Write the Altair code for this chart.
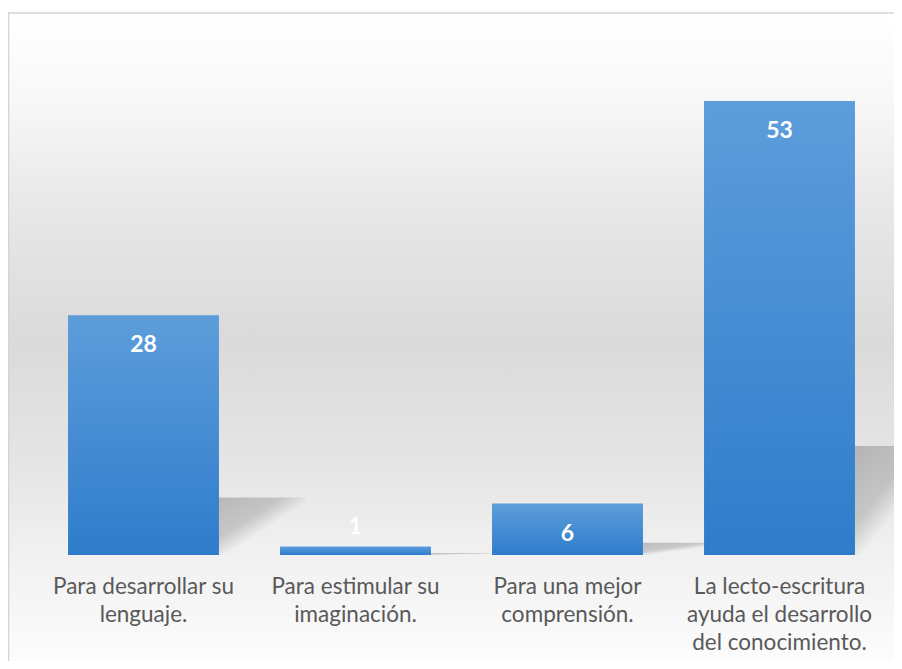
import altair as alt
import pandas as pd

categories = [
    "Para desarrollar su\nlenguaje.",
    "Para estimular su\nimaginación.",
    "Para una mejor\ncomprensión.",
    "La lecto-escritura\nayuda el desarrollo\ndel conocimiento.",
]
values = [28, 1, 6, 53]

df = pd.DataFrame({"cat": categories, "v": values})
frame_df = pd.DataFrame({"a": [0]})

W, H = 848, 514

bg = alt.Chart(frame_df).mark_rect(
    color=alt.Gradient(
        gradient="linear", x1=0, y1=0, x2=0, y2=1,
        stops=[
            alt.GradientStop(offset=0.0, color="#ffffff"),
            alt.GradientStop(offset=0.13, color="#f8f8f8"),
            alt.GradientStop(offset=0.28, color="#e9e9e9"),
            alt.GradientStop(offset=0.50, color="#dadada"),
            alt.GradientStop(offset=0.70, color="#e6e6e6"),
            alt.GradientStop(offset=0.83, color="#f1f1f1"),
            alt.GradientStop(offset=1.0, color="#fdfdfd"),
        ],
    ),
).encode(
    x=alt.value(-29.5), x2=alt.value(W + 60),
    y=alt.value(-28), y2=alt.value(H + 114),
)

top_line = alt.Chart(frame_df).mark_rule(color="#d4d4d4", strokeWidth=1.5).encode(
    x=alt.value(-29.5), x2=alt.value(W + 60), y=alt.value(-28)
)
left_line = alt.Chart(frame_df).mark_rule(color="#d4d4d4", strokeWidth=1.5).encode(
    x=alt.value(-29), y=alt.value(-28), y2=alt.value(H + 114)
)

xenc = alt.X(
    "cat:N", sort=None, title=None,
    scale=alt.Scale(paddingInner=0.288, paddingOuter=0.144),
    axis=alt.Axis(
        labelAngle=0, domain=False, ticks=False, labelFont="Lato",
        labelFontSize=22.5, labelColor="#595959", labelLineHeight=28,
        labelPadding=20.5, labelBaseline="top", zindex=2,
        labelExpr="split(datum.label, '\\n')", labelLimit=300,
    ),
)
yenc = alt.Y("v:Q", scale=alt.Scale(domain=[0, 60]), axis=None)

base = alt.Chart(df).encode(x=xenc, y=yenc)

shadow = alt.Chart(df).transform_calculate(sh="datum.v * 0.24").mark_bar(
    size=88, xOffset=119,
    color=alt.Gradient(
        gradient="linear", x1=0, y1=0, x2=1, y2=1,
        stops=[
            alt.GradientStop(offset=0.0, color="rgba(110,110,110,0.40)"),
            alt.GradientStop(offset=0.36, color="rgba(110,110,110,0.30)"),
            alt.GradientStop(offset=0.54, color="rgba(110,110,110,0.0)"),
            alt.GradientStop(offset=1.0, color="rgba(110,110,110,0.0)"),
        ],
    ),
).encode(x=xenc, y=alt.Y("sh:Q", scale=alt.Scale(domain=[0, 60]), axis=None))

bars = base.mark_bar(
    color=alt.Gradient(
        gradient="linear", x1=0, y1=0, x2=0, y2=1,
        stops=[
            alt.GradientStop(offset=0, color="#5d9ddb"),
            alt.GradientStop(offset=1, color="#2f7ccb"),
        ],
    )
)

txt_in = base.transform_filter("datum.v >= 5").mark_text(
    font="Lato", fontWeight="bold", fontSize=23, color="white",
    baseline="middle", dy=30,
).encode(text="v:Q")

txt_out = base.transform_filter("datum.v < 5").mark_text(
    font="Lato", fontWeight="bold", fontSize=23, color="white",
    baseline="middle", dy=-19,
).encode(text="v:Q")

chart = alt.layer(bg, top_line, left_line, shadow, bars, txt_in, txt_out).properties(
    width=W, height=H,
    autosize=alt.AutoSizeParams(type="none"),
    padding={"left": 29.5, "top": 33, "right": 8.5, "bottom": 106},
).configure_view(stroke=None).configure(background="white")

chart.save("out.html", embed_options={"renderer": "svg", "actions": False})
